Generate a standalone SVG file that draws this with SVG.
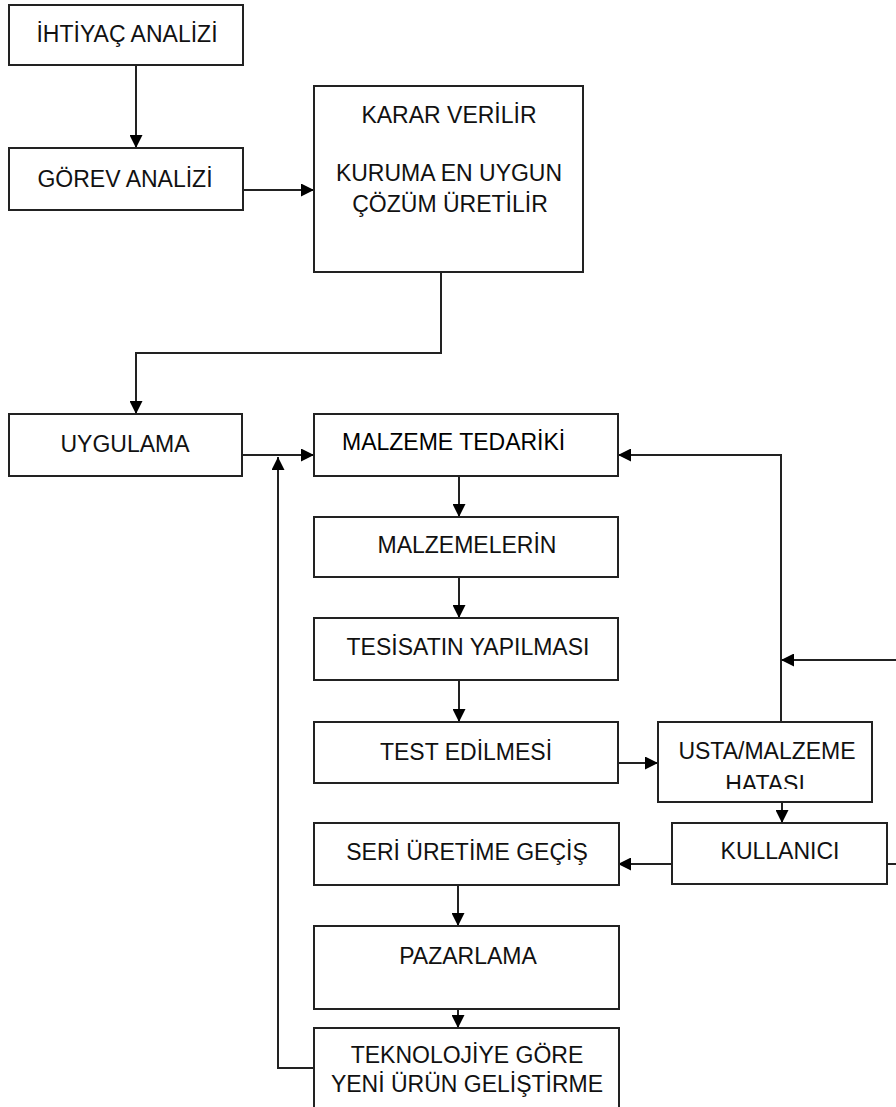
<svg xmlns="http://www.w3.org/2000/svg" width="896" height="1107" viewBox="0 0 896 1107">
<defs>
<style>
.box{fill:#fff;stroke:#222;stroke-width:2}
.t{font-family:"Liberation Sans",Arial,sans-serif;font-size:23px;fill:#111;text-anchor:middle}
.ta{font-family:"Liberation Sans",Arial,sans-serif;font-size:23px;fill:#000}
.c{fill:none;stroke:#222;stroke-width:2}
.a{marker-end:url(#ah)}
</style>
<marker id="ah" viewBox="0 0 10 10" refX="10" refY="5" markerWidth="13" markerHeight="13" markerUnits="userSpaceOnUse" orient="auto">
<path d="M0,0 L10,5 L0,10 z" fill="#000"/>
</marker>
<clipPath id="clipUsta"><rect x="658" y="722" width="214" height="67"/></clipPath>
</defs>
<rect width="896" height="1107" fill="#fff"/>
<g id="connectors">
<path class="c a" d="M136,65 V148"/>
<path class="c a" d="M243,190 H314"/>
<path class="c a" d="M441,272 V353 H136 V414"/>
<path class="c a" d="M242,455 H314"/>
<path class="c a" d="M314,1068 H278 V457"/>
<path class="c a" d="M459,476 V517"/>
<path class="c a" d="M459,577 V618"/>
<path class="c a" d="M459,680 V722"/>
<path class="c a" d="M618,763 H658"/>
<path class="c a" d="M781,722 V455 H618"/>
<path class="c a" d="M896,660 H781"/>
<path class="c a" d="M782,802 V823"/>
<path class="c a" d="M672,864 H618"/>
<path class="c" d="M887,864 H896"/>
<path class="c a" d="M458,885 V926"/>
<path class="c a" d="M458,1009 V1028"/>
</g>
<g id="ihtiyac"><rect class="box" x="9" y="5" width="234" height="60"/><text class="t" x="127" y="42">İHTİYAÇ ANALİZİ</text></g>
<g id="gorev"><rect class="box" x="9" y="148" width="234" height="62"/><text class="t" x="125" y="187">GÖREV ANALİZİ</text></g>
<g id="karar"><rect class="box" x="314" y="86" width="269" height="186"/>
<text class="t" x="449" y="123">KARAR VERİLİR</text>
<text class="t" x="449" y="181">KURUMA EN UYGUN</text>
<text class="t" x="450" y="212">ÇÖZÜM ÜRETİLİR</text></g>
<g id="uygulama"><rect class="box" x="9" y="414" width="233" height="62"/><text class="t" x="125" y="452">UYGULAMA</text></g>
<g id="tedarik"><rect class="box" x="314" y="414" width="304" height="62"/><text class="ta" x="342" y="450">MALZEME TEDARİKİ</text></g>
<g id="malzemeler"><rect class="box" x="314" y="517" width="304" height="60"/><text class="t" x="467" y="553">MALZEMELERİN</text></g>
<g id="tesisat"><rect class="box" x="314" y="618" width="304" height="62"/><text class="t" x="468" y="655">TESİSATIN YAPILMASI</text></g>
<g id="test"><rect class="box" x="314" y="722" width="304" height="61"/><text class="t" x="466" y="760">TEST EDİLMESİ</text></g>
<g id="usta"><rect class="box" x="658" y="722" width="214" height="80"/>
<text class="t" x="767" y="759">USTA/MALZEME</text>
<text class="t" x="765" y="792" clip-path="url(#clipUsta)">HATASI</text></g>
<g id="kullanici"><rect class="box" x="672" y="823" width="215" height="61"/><text class="t" x="780" y="859">KULLANICI</text></g>
<g id="seri"><rect class="box" x="314" y="823" width="305" height="62"/><text class="t" x="467" y="860">SERİ ÜRETİME GEÇİŞ</text></g>
<g id="pazarlama"><rect class="box" x="314" y="926" width="305" height="83"/><text class="t" x="468" y="964">PAZARLAMA</text></g>
<g id="teknoloji"><rect class="box" x="314" y="1028" width="305" height="90"/>
<text class="t" x="467" y="1063">TEKNOLOJİYE GÖRE</text>
<text class="t" x="467" y="1092">YENİ ÜRÜN GELİŞTİRME</text></g>
</svg>
